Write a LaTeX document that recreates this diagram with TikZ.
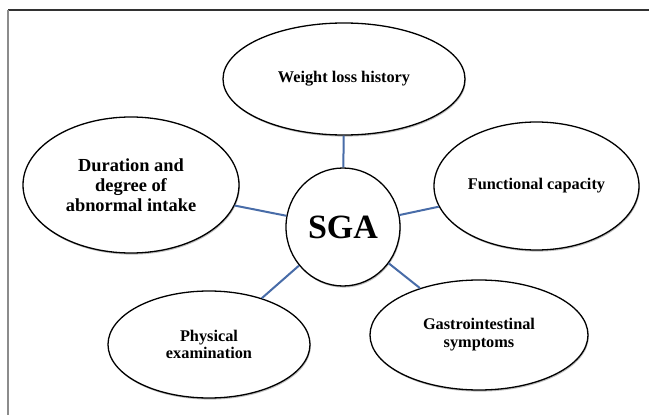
\documentclass[tikz,border=0pt]{standalone}
\usepackage{fontspec}
\setmainfont{Liberation Serif}
\usetikzlibrary{shapes.geometric,shadows}
\definecolor{linkblue}{RGB}{72,108,168}
\definecolor{framedark}{RGB}{50,50,50}
\definecolor{framegray}{RGB}{140,140,140}
\tikzset{
  bubble/.style={ellipse, draw=black, line width=1.3pt, fill=white, inner sep=0pt,
    align=center, font=\bfseries\fontsize{16.3}{17}\selectfont,
    drop shadow={shadow xshift=0.8pt, shadow yshift=-1.6pt, fill=black, opacity=0.25}},
  link/.style={draw=linkblue, line width=2pt}
}
\begin{document}
\begin{tikzpicture}[x=1pt,y=-1pt]
\useasboundingbox (0,0) rectangle (649,415);
\fill[white] (0,0) rectangle (649,415);
% frame
\coordinate (ftl) at (8,10);
\coordinate (ftr) at (649,10);
\coordinate (fbl) at (8,415);
\draw[framedark, line width=1.4pt] (ftl) -- (ftr);
\draw[framegray, line width=2pt] (ftl) -- (fbl);
% nodes
\node[bubble, minimum width=242pt, minimum height=112pt] (w) at (344,79) {Weight loss history};
\node[bubble, minimum width=216pt, minimum height=136pt, font=\bfseries\fontsize{18.4}{20}\selectfont] (d) at (131,185) {Duration and\\degree of\\abnormal intake};
\node[bubble, minimum width=205pt, minimum height=128pt] (f) at (536.5,186) {Functional capacity};
\node[bubble, minimum width=202pt, minimum height=107pt, font=\bfseries\fontsize{16.3}{16.5}\selectfont] (p) at (209,344.5) {Physical\\examination};
\node[bubble, minimum width=218pt, minimum height=110pt, font=\bfseries\fontsize{16.3}{18}\selectfont] (g) at (479,335) {Gastrointestinal\\symptoms};
\node[bubble, minimum width=114pt, minimum height=118pt, font=\bfseries\fontsize{34}{36}\selectfont] (s) at (343,227) {SGA};
% connectors
\draw[link] (s) -- (w);
\draw[link] (s) -- (d);
\draw[link] (s) -- (f);
\draw[link] (s) -- (p);
\draw[link] (s) -- (g);
\end{tikzpicture}
\end{document}
